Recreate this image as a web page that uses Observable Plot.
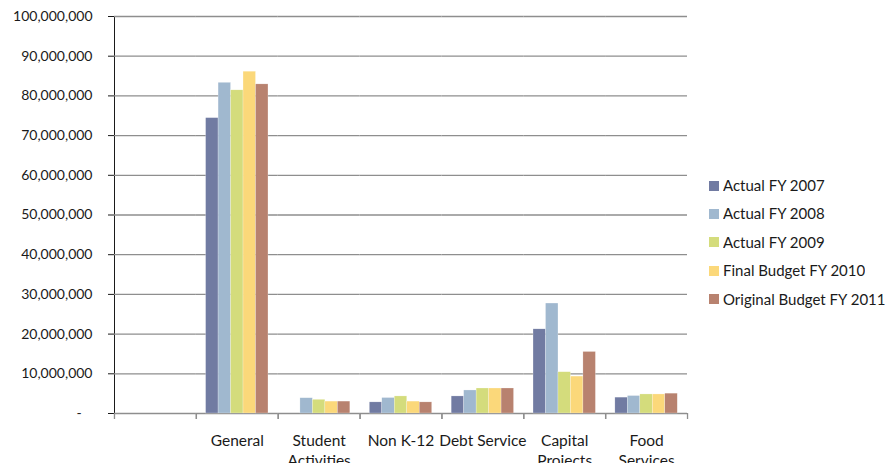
<!DOCTYPE html>
<html>
<head>
<meta charset="utf-8">
<script src="https://cdn.jsdelivr.net/npm/d3@7"></script>
<script src="https://cdn.jsdelivr.net/npm/@observablehq/plot@0.6"></script>
<style>
  body { margin: 0; background: #fff; font-family: Lato, "Open Sans", sans-serif; }
  #wrap { position: relative; width: 888px; height: 463px; overflow: hidden; }
  #legend { position: absolute; left: 709px; top: 176px; }
  .lg-swatch { padding-bottom: 9.4px !important; font-size: 15px; color: #1a1a1a; font-family: Lato, sans-serif; line-height: 19px; }
  .lg-swatch svg { margin-right: 4px !important; }
</style>
</head>
<body>
<div id="wrap"><div id="chart"></div><div id="legend"></div></div>
<script>
const categories = ["", "General", "Student Activities", "Non K-12", "Debt Service", "Capital Projects", "Food Services"];
const categoryLabels = ["", "General", "Student\nActivities", "Non K-12", "Debt Service", "Capital\nProjects", "Food\nServices"];
const series = ["Actual FY 2007", "Actual FY 2008", "Actual FY 2009", "Final Budget FY 2010", "Original Budget FY 2011"];
const colors = ["#717ba2", "#a0b8cf", "#d4dc7c", "#fbd87a", "#b8826f"];
const yTicks = [0, 10000000, 20000000, 30000000, 40000000, 50000000, 60000000, 70000000, 80000000, 90000000, 100000000];

// values per category (in series order)
const general        = [74400000, 83300000, 81400000, 86100000, 82900000];
const studentAct     = [null,     3850000,  3450000,  3000000,  3000000];
const nonK12         = [2800000,  3900000,  4300000,  3000000,  2800000];
const debtService    = [4300000,  5800000,  6300000,  6300000,  6300000];
const capitalProj    = [21200000, 27700000, 10400000, 9300000,  15500000];
const foodServices   = [4000000,  4400000,  4800000,  4800000,  5000000];

const valuesByCat = {
  "General": general,
  "Student Activities": studentAct,
  "Non K-12": nonK12,
  "Debt Service": debtService,
  "Capital Projects": capitalProj,
  "Food Services": foodServices
};
const data = [];
for (const c of categories) {
  const vals = valuesByCat[c];
  if (!vals) continue;
  series.forEach((s, i) => { if (vals[i] != null) data.push({category: c, series: s, value: vals[i]}); });
}
const labelData = categories.map((c, i) => ({category: c, label: categoryLabels[i]}));

const grid = "#8e8e8e";
const chart = Plot.plot({
  width: 700,
  height: 463,
  marginLeft: 114,
  marginRight: 13,
  marginTop: 16,
  marginBottom: 50,
  style: {fontFamily: "Lato, sans-serif", fontSize: "14px", color: "#1a1a1a", background: "white"},
  fx: {domain: categories, paddingInner: 0, paddingOuter: 0, round: false, axis: null},
  x: {domain: series, paddingInner: 0, paddingOuter: 0.78, round: false, axis: null},
  y: {domain: [0, 100000000], ticks: yTicks, tickSize: 6, tickPadding: 16, line: true,
      tickFormat: d => d === 0 ? "-   " : d3.format(",")(d), label: null},
  color: {domain: series, range: colors},
  marks: [
    Plot.ruleY(yTicks, {stroke: grid, strokeWidth: 1.3}),
    Plot.barY(data, {fx: "category", x: "series", y: "value", fill: "series", stroke: "#ffffff", strokeWidth: 0.4, strokeOpacity: 0.6}),
    Plot.ruleX(labelData, {fx: "category", x: () => series[0], dx: -16, y1: 0, y2: 0, insetBottom: -6, stroke: grid, strokeWidth: 1.3}),
    Plot.ruleX(labelData, {fx: "category", x: () => series[4], dx: 16, y1: 0, y2: 0, insetBottom: -6, stroke: grid, strokeWidth: 1.3}),
    Plot.text(labelData, {fx: "category", text: "label", frameAnchor: "bottom", lineAnchor: "top", dy: 18.5, lineHeight: 1.3, fontSize: 15.5, fill: "#1a1a1a"})
  ]
});
document.getElementById("chart").appendChild(chart);

const legend = Plot.legend({
  color: {domain: series, range: colors},
  legend: "swatches",
  columns: 1,
  swatchSize: 10,
  className: "lg"
});
document.getElementById("legend").appendChild(legend);
</script>
</body>
</html>
